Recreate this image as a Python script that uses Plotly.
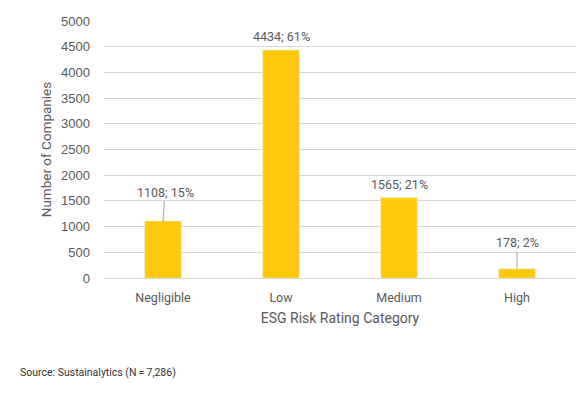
import plotly.graph_objects as go

categories = ["Negligible", "Low", "Medium", "High"]
counts = [1108, 4434, 1565, 178]
percents = [15, 61, 21, 2]
y_ticks = [0, 500, 1000, 1500, 2000, 2500, 3000, 3500, 4000, 4500, 5000]
source_text = "Source: Sustainalytics (N\u2009=\u20097,286)"

COND = "Roboto, sans-serif"
TXT = "#595959"

fig = go.Figure(go.Bar(
    x=categories, y=counts, marker_color="#FFC90B", width=0.31,
    hoverinfo="skip",
))

# label placement: leader lines for short bars
offsets = {"Negligible": (2, -29), "High": (0, -26)}
for c, v, p in zip(categories, counts, percents):
    label = f"{v}; {p}%"
    if c in offsets:
        ax, ay = offsets[c]
        fig.add_annotation(x=c, y=v, text=label, showarrow=True, arrowhead=0,
                           arrowwidth=1, arrowcolor="#A6A6A6", ax=ax, ay=ay,
                           font=dict(family=COND, size=12.5, color=TXT))
    else:
        fig.add_annotation(x=c, y=v, text=label, showarrow=False,
                           yanchor="bottom", yshift=4,
                           font=dict(family=COND, size=12.5, color=TXT))

fig.add_annotation(xref="paper", yref="paper", x=-0.182, y=-0.366,
                   xanchor="left", yanchor="middle", text=source_text,
                   showarrow=False, font=dict(family=COND, size=10.5, color="#333333"))

fig.update_layout(
    width=570, height=380,
    margin=dict(l=96, r=2, t=13, b=110, autoexpand=False),
    plot_bgcolor="white", paper_bgcolor="white",
    showlegend=False,
    xaxis=dict(
        title=dict(text="ESG Risk Rating Category", font=dict(family=COND, size=14, color=TXT), standoff=9),
        tickfont=dict(family=COND, size=12.5, color=TXT),
        showline=True, linecolor="#D9D9D9", linewidth=1, ticks="",
        ticklabelstandoff=8, automargin=False,
    ),
    yaxis=dict(
        title=dict(text="Number of Companies", font=dict(family=COND, size=13.5, color=TXT), standoff=6),
        range=[0, 5000], tickvals=y_ticks,
        tickfont=dict(family="Liberation Sans, Arial, sans-serif", size=13, color=TXT),
        gridcolor="#D9D9D9", gridwidth=1, zeroline=False, showline=False,
        ticklabelstandoff=13, automargin=False,
    ),
)

fig.write_html("out.html")
